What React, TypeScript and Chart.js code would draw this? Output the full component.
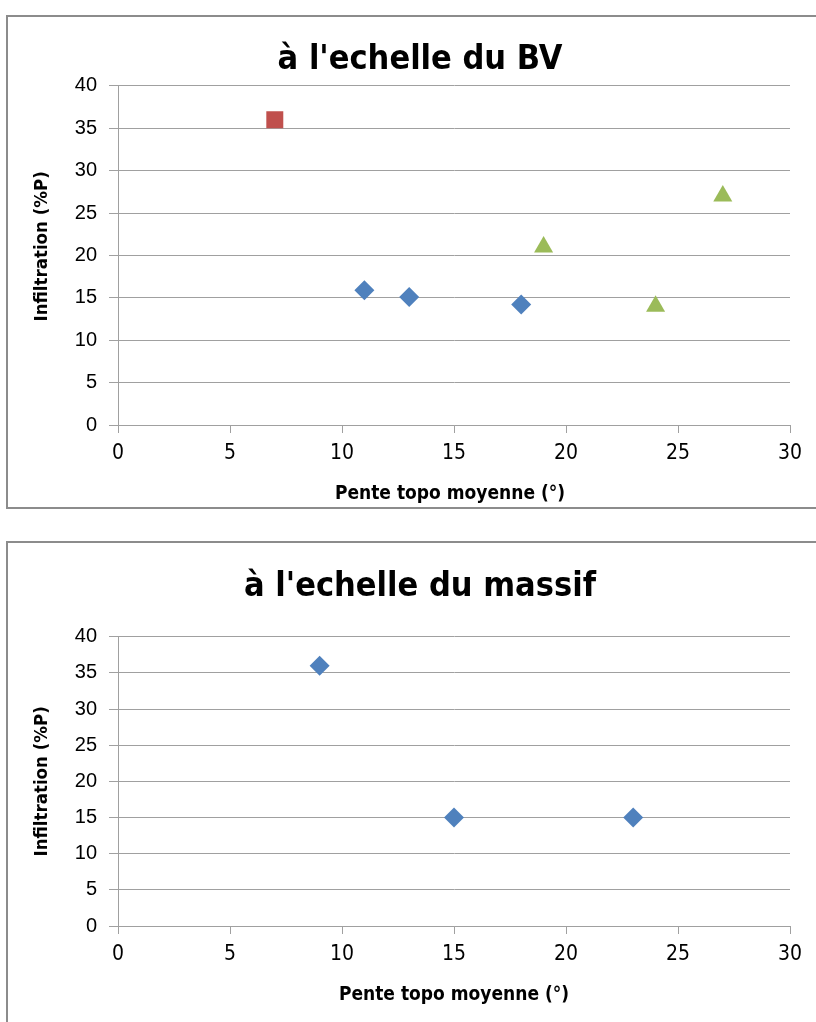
import React, { useEffect, useRef } from "react";
import { Chart, registerables } from "chart.js";

Chart.register(...registerables);

// ---- Data ----
const xTicks = [0, 5, 10, 15, 20, 25, 30];
const yTicks = [0, 5, 10, 15, 20, 25, 30, 35, 40];

const bvTitle = "à l'echelle du BV";
const massifTitle = "à l'echelle du massif";
const xAxisTitle = "Pente topo moyenne (°)";
const yAxisTitle = "Infiltration (%P)";

// top chart series
const bvRedX = [7];
const bvRedY = [36];
const bvBlueX = [11, 13, 18];
const bvBlueY = [15.9, 15.1, 14.2];
const bvGreenX = [19, 24, 27];
const bvGreenY = [21, 14, 27];

// bottom chart series
const massifBlueX = [9, 15, 23];
const massifBlueY = [36, 15, 15];

const BLUE = "#4F81BD";
const RED = "#C0504D";
const GREEN = "#9BBB59";
const GRID = "#A0A0A0";

const NARROW = '"Liberation Sans Narrow", "DejaVu Sans Condensed", "Arial Narrow", sans-serif';
const WIDE = '"Liberation Sans", "Open Sans", sans-serif';

const pts = (xs: number[], ys: number[]) => xs.map((x, i) => ({ x, y: ys[i] }));

type Geo = {
  w: number;
  h: number;
  plotLeft: number;
  plotRight: number;
  titlePadTop: number;
  titlePadBottom: number;
  plotBottom: number;
  xTitlePadBottom: number;
  yTitleShiftUp: number;
  xTitleShiftLeft: number;
};

// shifts an axis title's centre without touching the scale itself
function shiftTitle(s: any, edge: "bottom" | "right", amount: number) {
  if (!amount || s.__shifted) return;
  s.__shifted = true;
  const orig = s.drawTitle;
  s.drawTitle = function (...args: any[]) {
    const saved = this[edge];
    this[edge] = saved - 2 * amount;
    orig.apply(this, args);
    this[edge] = saved;
  };
}

function makeConfig(title: string, datasets: any[], g: Geo): any {
  return {
    type: "scatter",
    data: { datasets },
    options: {
      animation: false,
      responsive: false,
      maintainAspectRatio: false,
      layout: { padding: 0 },
      plugins: {
        legend: { display: false },
        tooltip: { enabled: false },
        title: {
          display: true,
          text: title,
          color: "#000",
          font: { family: NARROW, size: 34, weight: "bold", lineHeight: 1.2 },
          padding: { top: g.titlePadTop, bottom: g.titlePadBottom },
        },
      },
      scales: {
        x: {
          type: "linear",
          min: 0,
          max: 30,
          afterFit: (s: any) => {
            s.height = g.h - g.plotBottom;
            shiftTitle(s, "right", g.xTitleShiftLeft);
          },
          afterBuildTicks: (s: any) => {
            s.ticks = xTicks.map((v) => ({ value: v }));
          },
          grid: {
            display: true,
            drawOnChartArea: false,
            drawTicks: true,
            tickLength: 8,
            color: GRID,
            lineWidth: 1,
          },
          border: { display: true, color: GRID, width: 1 },
          ticks: {
            color: "#000",
            padding: 8,
            font: { family: NARROW, size: 21 },
            maxRotation: 0,
            autoSkip: false,
          },
          title: {
            display: true,
            text: xAxisTitle,
            color: "#000",
            font: { family: NARROW, size: 19, weight: "bold", lineHeight: 1.2 },
            padding: { top: 0, bottom: g.xTitlePadBottom },
          },
        },
        y: {
          type: "linear",
          position: "left",
          min: 0,
          max: 40,
          afterFit: (s: any) => {
            s.width = g.plotLeft;
            shiftTitle(s, "bottom", g.yTitleShiftUp);
          },
          afterBuildTicks: (s: any) => {
            s.ticks = yTicks.map((v) => ({ value: v }));
          },
          grid: {
            display: true,
            drawOnChartArea: true,
            drawTicks: true,
            tickLength: 9,
            color: GRID,
            lineWidth: 1,
          },
          border: { display: true, color: GRID, width: 1 },
          ticks: {
            color: "#000",
            padding: 12,
            font: { family: WIDE, size: 20 },
            autoSkip: false,
          },
          title: {
            display: true,
            text: yAxisTitle,
            color: "#000",
            font: { family: NARROW, size: 18.5, weight: "bold", lineHeight: 1.2 },
            padding: { top: 23, bottom: 0 },
          },
        },
        // empty spacer on the right so the chart title is centred on the whole frame
        yRight: {
          type: "linear",
          position: "right",
          min: 0,
          max: 40,
          afterFit: (s: any) => {
            s.width = g.w - g.plotRight;
          },
          grid: { display: false, drawTicks: false },
          border: { display: false },
          ticks: { display: false },
          title: { display: false },
        },
      },
    },
  };
}

function ChartCanvas({ cfg, w, h, left, top }: { cfg: any; w: number; h: number; left: number; top: number }) {
  const ref = useRef<HTMLCanvasElement | null>(null);
  useEffect(() => {
    if (!ref.current) return;
    const c = new Chart(ref.current, cfg);
    return () => c.destroy();
  }, []);
  return (
    <canvas
      ref={ref}
      width={w}
      height={h}
      style={{ position: "absolute", left, top, width: w, height: h }}
    />
  );
}

export default function App() {
  const topGeo: Geo = {
    w: 824,
    h: 490,
    plotLeft: 110,
    plotRight: 782,
    titlePadTop: 23,
    titlePadBottom: 5,
    plotBottom: 408,
    xTitlePadBottom: 2,
    yTitleShiftUp: 9,
    xTitleShiftLeft: 4,
  };
  const botGeo: Geo = {
    w: 824,
    h: 479,
    plotLeft: 110,
    plotRight: 782,
    titlePadTop: 24,
    titlePadBottom: 29,
    plotBottom: 383,
    xTitlePadBottom: 16,
    yTitleShiftUp: 0,
    xTitleShiftLeft: 0,
  };

  const topCfg = makeConfig(
    bvTitle,
    [
      {
        label: "rouge",
        data: pts(bvRedX, bvRedY),
        yAxisID: "y",
        pointStyle: "rect",
        pointRadius: 12,
        backgroundColor: RED,
        borderColor: RED,
        borderWidth: 0,
      },
      {
        label: "bleu",
        data: pts(bvBlueX, bvBlueY),
        yAxisID: "y",
        pointStyle: "rectRot",
        pointRadius: 10,
        backgroundColor: BLUE,
        borderColor: BLUE,
        borderWidth: 0,
      },
      {
        label: "vert",
        data: pts(bvGreenX, bvGreenY),
        yAxisID: "y",
        pointStyle: "triangle",
        pointRadius: 11,
        backgroundColor: GREEN,
        borderColor: GREEN,
        borderWidth: 0,
      },
    ],
    topGeo
  );

  const botCfg = makeConfig(
    massifTitle,
    [
      {
        label: "massif",
        data: pts(massifBlueX, massifBlueY),
        yAxisID: "y",
        pointStyle: "rectRot",
        pointRadius: 10,
        backgroundColor: BLUE,
        borderColor: BLUE,
        borderWidth: 0,
      },
    ],
    botGeo
  );

  return (
    <div
      style={{
        position: "fixed",
        left: 0,
        top: 0,
        width: 816,
        height: 1022,
        overflow: "hidden",
        background: "#fff",
      }}
    >
      <div
        style={{
          position: "absolute",
          left: 6,
          top: 15,
          width: 830,
          height: 494,
          border: "2px solid #8C8C8C",
          boxSizing: "border-box",
        }}
      />
      <div
        style={{
          position: "absolute",
          left: 6,
          top: 541,
          width: 830,
          height: 500,
          border: "2px solid #8C8C8C",
          boxSizing: "border-box",
        }}
      />
      <ChartCanvas cfg={topCfg} w={topGeo.w} h={topGeo.h} left={8} top={17} />
      <ChartCanvas cfg={botCfg} w={botGeo.w} h={botGeo.h} left={8} top={543} />
    </div>
  );
}
